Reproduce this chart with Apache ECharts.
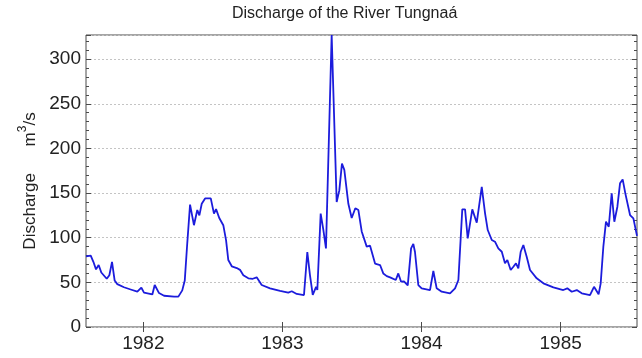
<!DOCTYPE html>
<html>
<head>
<meta charset="utf-8">
<script src="https://cdn.jsdelivr.net/npm/echarts@6/dist/echarts.min.js"></script>
<style>
html,body{margin:0;padding:0;background:#fff;}
#chart{width:642px;height:358px;}
</style>
</head>
<body>
<div id="chart"></div>
<script>
// Decimal year of each reading
const years = [
1981.588,1981.602,1981.622,1981.641,1981.660,1981.679,1981.698,1981.737,1981.756,1981.775,
1981.794,1981.813,1981.861,1981.909,1981.957,1981.986,1982.005,1982.065,1982.082,1982.113,
1982.149,1982.221,1982.252,1982.280,1982.298,1982.316,1982.336,1982.364,1982.388,1982.403,
1982.420,1982.444,1982.485,1982.508,1982.523,1982.546,1982.575,1982.595,1982.611,1982.636,
1982.672,1982.695,1982.719,1982.755,1982.787,1982.815,1982.851,1982.911,1982.983,1983.042,
1983.067,1983.103,1983.155,1983.179,1983.198,1983.218,1983.242,1983.251,1983.275,1983.294,
1983.313,1983.354,1983.390,1983.409,1983.428,1983.445,1983.474,1983.498,1983.524,1983.546,
1983.570,1983.606,1983.630,1983.666,1983.702,1983.725,1983.750,1983.774,1983.815,1983.833,
1983.853,1983.874,1983.901,1983.925,1983.941,1983.953,1983.977,1984.001,1984.061,1984.085,
1984.109,1984.145,1984.205,1984.241,1984.265,1984.293,1984.313,1984.332,1984.365,1984.397,
1984.433,1984.457,1984.476,1984.505,1984.528,1984.552,1984.577,1984.600,1984.617,1984.641,
1984.660,1984.679,1984.696,1984.713,1984.732,1984.756,1984.780,1984.828,1984.876,1984.948,
1985.019,1985.048,1985.080,1985.116,1985.152,1985.211,1985.240,1985.273,1985.288,1985.307,
1985.326,1985.346,1985.367,1985.386,1985.408,1985.427,1985.446,1985.465,1985.499,1985.523,
1985.549
];
// Discharge, m3/s
const discharge = [
79,77,80,73,64.5,69.5,61,54,58,73,
52,48,44.5,42,39.5,44,38.5,36.5,47,38,
35,34,34,41,52,94,137,114,131,125,
138,144,144,127,132,122,114,97,75,68,
66,64,58,54.5,54,55.6,47,43.3,40.5,38.5,
40,37,35.8,84,58,36,45,41.5,127,109,
88,327,140,153,183,176,138,122,133,131,
107,90,91,71,69.4,60,57,55.6,52.6,60,
50.7,51,46.7,88,93,84,47,43.3,41.4,62.7,
43.3,39.5,37.7,43.3,52.6,131.7,131.7,99.3,131.7,116.8,
157,127,108.6,97.4,95.5,88,84.3,71.3,75,63.8,
67.5,71.3,65.7,84.3,91.8,78.7,63.8,54.5,48.9,44.4,
41.4,43.3,39.5,41.4,37.7,35.8,45,36.6,48.9,89.9,
117.9,112.3,149.7,117.9,134.7,160.9,165.3,149.7,125.4,121.7,
102
];
const yearTicks = [1982, 1983, 1984, 1985];
const titleText = 'Discharge of the River Tungnaá';

const chart = echarts.init(document.getElementById('chart'), null, {renderer: 'canvas'});
const fontFam = 'Liberation Sans, Arial, sans-serif';
const frameColor = '#4a4a4a';
const xMin = 1981.588, xMax = 1985.549;

const xBase = {
  type: 'value', min: xMin, max: xMax,
  axisLine: {show: false},
  splitLine: {show: false},
  axisTick: {show: true, inside: true, length: 5, customValues: yearTicks, lineStyle: {color: frameColor}},
  axisLabel: {show: true, customValues: yearTicks, formatter: v => String(Math.round(v)),
    fontFamily: fontFam, fontSize: 19, color: '#222', margin: 7}
};
const yBase = {
  type: 'value', min: 0, max: 327, interval: 50,
  axisLine: {show: false},
  axisTick: {show: true, inside: true, length: 5, lineStyle: {color: frameColor}},
  minorTick: {show: true, splitNumber: 5, length: 3, lineStyle: {color: frameColor}},
  axisLabel: {show: true, showMaxLabel: false, fontFamily: fontFam, fontSize: 19, color: '#222', margin: 5},
  splitLine: {show: true, lineStyle: {color: '#c4c4c4', type: [2, 2], width: 1}}
};

chart.setOption({
  animation: false,
  backgroundColor: '#ffffff',
  graphic: [{
    type: 'text', left: 351 - 119, top: 6,
    style: {text: titleText, fontFamily: fontFam, fontSize: 16, fill: '#222'}
  }],
  grid: {left: 86, right: 5, top: 35, bottom: 31, show: true, borderColor: frameColor, borderWidth: 1, backgroundColor: 'transparent'},
  xAxis: [
    Object.assign({}, xBase, {position: 'bottom'}),
    Object.assign({}, xBase, {position: 'top', axisLabel: {show: false}})
  ],
  yAxis: [
    Object.assign({}, yBase, {position: 'left',
      name: '{a|Discharge}        {a|m}{s|3}{a|/s}',
      nameLocation: 'middle', nameRotate: 90, nameGap: 47,
      nameTextStyle: {rich: {
        a: {fontFamily: fontFam, fontSize: 17, color: '#222', lineHeight: 22, verticalAlign: 'bottom'},
        s: {fontFamily: fontFam, fontSize: 12, color: '#222', lineHeight: 22, verticalAlign: 'top'}
      }}
    }),
    Object.assign({}, yBase, {position: 'right', axisLabel: {show: false}, splitLine: {show: false}})
  ],
  series: [{
    type: 'line',
    xAxisIndex: 0, yAxisIndex: 0,
    data: years.map((y, i) => [y, discharge[i]]),
    showSymbol: false,
    symbol: 'none',
    lineStyle: {color: '#1c1cdc', width: 1.8},
    clip: true,
    z: 3
  }]
});
</script>
</body>
</html>
